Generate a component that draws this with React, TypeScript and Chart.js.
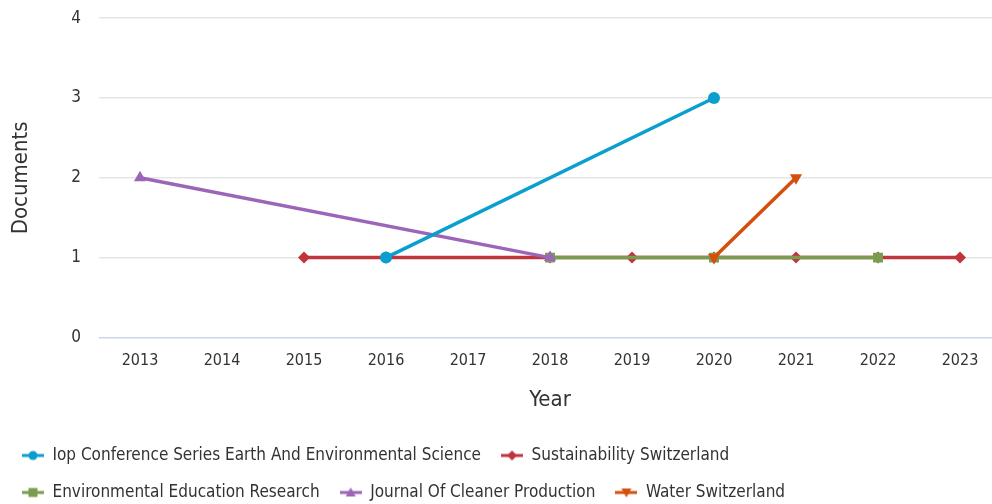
import React, { useEffect, useRef } from "react";
import { Chart, registerables } from "chart.js";

Chart.register(...registerables);

const years = ["2013", "2014", "2015", "2016", "2017", "2018", "2019", "2020", "2021", "2022", "2023"];
const seriesNames = [
  "Iop Conference Series Earth And Environmental Science",
  "Sustainability Switzerland",
  "Environmental Education Research",
  "Journal Of Cleaner Production",
  "Water Switzerland",
];
const iopValues = [null, null, null, 1, null, null, null, 3, null, null, null];
const sustainabilityValues = [null, null, 1, 1, null, 1, 1, 1, 1, 1, 1];
const envEduValues = [null, null, null, null, null, 1, null, 1, null, 1, null];
const cleanerValues = [2, null, null, null, null, 1, null, null, null, null, null];
const waterValues = [null, null, null, null, null, null, null, 1, 2, null, null];
const yTicks = [0, 1, 2, 3, 4];

const colors = ["#0a9fcf", "#c0353d", "#7a9c51", "#9b65b8", "#d44f0c"];
const styles: any[] = ["circle", "rectRot", "rect", "triangle", "triangle"];
const rotations = [0, 0, 0, 0, 180];
const radii = [6, 6, 7, 7, 7];
const drawOrder = [0, 4, 3, 2, 1];

const FONT = "'Liberation Sans Narrow', 'DejaVu Sans Condensed', sans-serif";

function makeIcon(color: string, style: string, rotation: number) {
  const c = document.createElement("canvas");
  c.width = 22;
  c.height = 14;
  const g = c.getContext("2d")!;
  g.strokeStyle = color;
  g.fillStyle = color;
  g.lineWidth = 3;
  g.beginPath();
  g.moveTo(0, 7);
  g.lineTo(22, 7);
  g.stroke();
  g.save();
  g.translate(11, 7);
  g.rotate((rotation * Math.PI) / 180);
  g.beginPath();
  if (style === "circle") {
    g.arc(0, 0, 4.5, 0, Math.PI * 2);
  } else if (style === "rectRot") {
    g.moveTo(0, -5);
    g.lineTo(5, 0);
    g.lineTo(0, 5);
    g.lineTo(-5, 0);
    g.closePath();
  } else if (style === "rect") {
    g.rect(-4.5, -4.5, 9, 9);
  } else {
    g.moveTo(0, -5);
    g.lineTo(5, 4);
    g.lineTo(-5, 4);
    g.closePath();
  }
  g.fill();
  g.restore();
  return c;
}

export default function App() {
  const ref = useRef<HTMLCanvasElement | null>(null);
  useEffect(() => {
    if (!ref.current) return;
    const allValues = [iopValues, sustainabilityValues, envEduValues, cleanerValues, waterValues];
    const icons = seriesNames.map((_, i) => makeIcon(colors[i], styles[i], rotations[i]));
    const chart = new Chart(ref.current, {
      type: "line",
      data: {
        labels: years,
        datasets: seriesNames.map((name, i) => ({
          label: name,
          data: allValues[i],
          borderColor: colors[i],
          backgroundColor: colors[i],
          borderWidth: 3.5,
          pointStyle: styles[i],
          rotation: rotations[i],
          pointRadius: radii[i],
          pointHoverRadius: radii[i],
          pointBorderWidth: 0,
          spanGaps: true,
          tension: 0,
          order: drawOrder[i],
        })),
      },
      options: {
        animation: false,
        responsive: false,
        maintainAspectRatio: false,
        layout: { padding: { left: 2, top: 0, right: 0, bottom: 0 } },
        plugins: {
          tooltip: { enabled: false },
          legend: {
            position: "bottom",
            align: "start",
            labels: {
              usePointStyle: true,
              pointStyleWidth: 22,
              boxHeight: 14,
              padding: 20,
              color: "#333333",
              font: { family: FONT, size: 17 },
              generateLabels: (ch: any) =>
                ch.data.datasets.map((ds: any, i: number) => ({
                  text: ds.label,
                  fillStyle: colors[i],
                  strokeStyle: colors[i],
                  lineWidth: 0,
                  pointStyle: icons[i],
                  hidden: false,
                  datasetIndex: i,
                  fontColor: "#333333",
                })),
            },
          },
        },
        scales: {
          x: {
            offset: true,
            grid: { display: false },
            border: { display: false },
            ticks: { color: "#333333", font: { family: FONT, size: 16 }, padding: 6, maxRotation: 0 },
            title: { display: true, text: "Year", color: "#333333", font: { family: FONT, size: 22 }, padding: { top: 10, bottom: 14 } },
          },
          y: {
            min: 0,
            max: 4,
            afterBuildTicks: (axis: any) => {
              axis.ticks = yTicks.map((v) => ({ value: v }));
            },
            afterFit: (axis: any) => {
              axis.width = 97;
            },
            grid: {
              color: (c: any) => (c.tick && c.tick.value === 0 ? "#ccd6eb" : "#e6e6e6"),
              lineWidth: 1.5,
              drawTicks: false,
            },
            border: { display: false },
            ticks: { color: "#333333", font: { family: FONT, size: 17 }, padding: 18 },
            title: { display: true, text: "Documents", color: "#333333", font: { family: FONT, size: 22 }, padding: { top: 6, bottom: 0 } },
          },
        },
      },
    });
    return () => chart.destroy();
  }, []);
  return (
    <div style={{ position: "fixed", left: 0, top: 0, width: 992, height: 504, overflow: "hidden", background: "#fff" }}>
      <canvas ref={ref} width={1008} height={521} style={{ width: 1008, height: 521, display: "block", marginTop: -10 }} />
    </div>
  );
}
